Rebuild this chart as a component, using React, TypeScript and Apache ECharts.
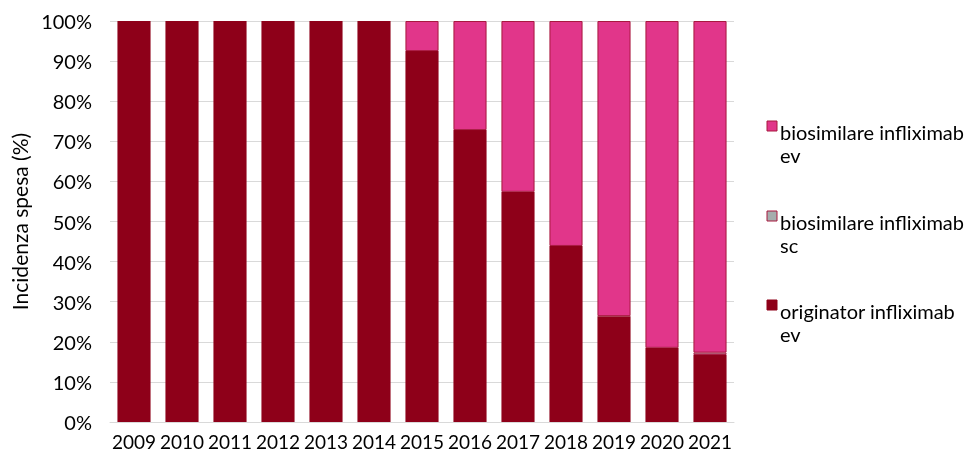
import React, { useEffect, useRef } from "react";
import * as echarts from "echarts";

const years = ["2009", "2010", "2011", "2012", "2013", "2014", "2015", "2016", "2017", "2018", "2019", "2020", "2021"];
const originatorEv = [100, 100, 100, 100, 100, 100, 92.5, 72.8, 57.4, 43.9, 26.4, 18.5, 16.7];
const biosimilarSc = [0, 0, 0, 0, 0, 0, 0, 0, 0, 0, 0, 0, 0.6];
const biosimilarEv = [0, 0, 0, 0, 0, 0, 7.5, 27.2, 42.6, 56.1, 73.6, 81.5, 82.7];
const yTicks = [0, 10, 20, 30, 40, 50, 60, 70, 80, 90, 100];
const seriesNames = ["originator infliximab ev", "biosimilare infliximab sc", "biosimilare infliximab ev"];
const legendLabels = ["biosimilare infliximab\nev", "biosimilare infliximab\nsc", "originator infliximab\nev"];

const FONT = "Lato";
const COLORS = {
  orig: "#8e0019",
  sc: "#a5adad",
  bev: "#e1368a",
  border: "#a8183f",
};

const hideZero = (arr: number[]) => arr.map((v) => (v === 0 ? "-" : v));

export default function App() {
  const ref = useRef<HTMLDivElement>(null);
  useEffect(() => {
    if (!ref.current) return;
    const chart = echarts.init(ref.current, null, { renderer: "svg" });
    const legendFills = [COLORS.bev, COLORS.sc, COLORS.orig];
    const legendStrokes = [COLORS.border, COLORS.border, COLORS.orig];
    const legendTops = [121, 211, 300];
    const legendGraphics: any[] = [];
    legendLabels.forEach((lab, i) => {
      legendGraphics.push({
        type: "rect",
        shape: { x: 767, y: legendTops[i], width: 10, height: 10 },
        style: { fill: legendFills[i], stroke: legendStrokes[i], lineWidth: 1 },
        silent: true,
      });
      legendGraphics.push({
        type: "text",
        x: 780,
        y: legendTops[i] - 0.5,
        style: {
          text: lab,
          fontFamily: FONT,
          fontSize: 20,
          lineHeight: 23,
          fill: "#000",
          textAlign: "left",
          textVerticalAlign: "top",
          verticalAlign: "top",
        },
        silent: true,
      });
    });
    chart.setOption({
      animation: false,
      textStyle: { fontFamily: FONT },
      grid: { left: 110, right: 233, top: 21, bottom: 35, containLabel: false },
      legend: { show: false },
      graphic: legendGraphics,
      xAxis: {
        type: "category",
        data: years,
        axisLine: { lineStyle: { color: "#d9d9d9", width: 1 } },
        axisTick: { show: false },
        axisLabel: { color: "#000", fontSize: 19, fontFamily: FONT, margin: 10, interval: 0 },
      },
      yAxis: {
        type: "value",
        min: yTicks[0],
        max: yTicks[yTicks.length - 1],
        interval: 10,
        name: "Incidenza spesa (%)",
        nameLocation: "middle",
        nameGap: 78,
        nameRotate: 90,
        nameTextStyle: { color: "#000", fontSize: 21, fontFamily: FONT },
        axisLine: { show: false },
        axisTick: { show: false },
        axisLabel: { color: "#000", fontSize: 20, fontFamily: FONT, margin: 18, formatter: "{value}%" },
        splitLine: { lineStyle: { color: "#d9d9d9", width: 1 } },
      },
      series: [
        {
          name: seriesNames[0],
          type: "bar",
          stack: "s",
          data: originatorEv,
          barWidth: "69%",
          itemStyle: { color: COLORS.orig, borderWidth: 0 },
        },
        {
          name: seriesNames[1],
          type: "bar",
          stack: "s",
          data: hideZero(biosimilarSc),
          itemStyle: { color: COLORS.sc, borderColor: COLORS.border, borderWidth: 1 },
        },
        {
          name: seriesNames[2],
          type: "bar",
          stack: "s",
          data: hideZero(biosimilarEv),
          itemStyle: { color: COLORS.bev, borderColor: COLORS.border, borderWidth: 1 },
        },
      ],
    });
    return () => chart.dispose();
  }, []);
  return <div ref={ref} style={{ position: "fixed", left: 0, top: 0, width: 967, height: 457 }} />;
}
